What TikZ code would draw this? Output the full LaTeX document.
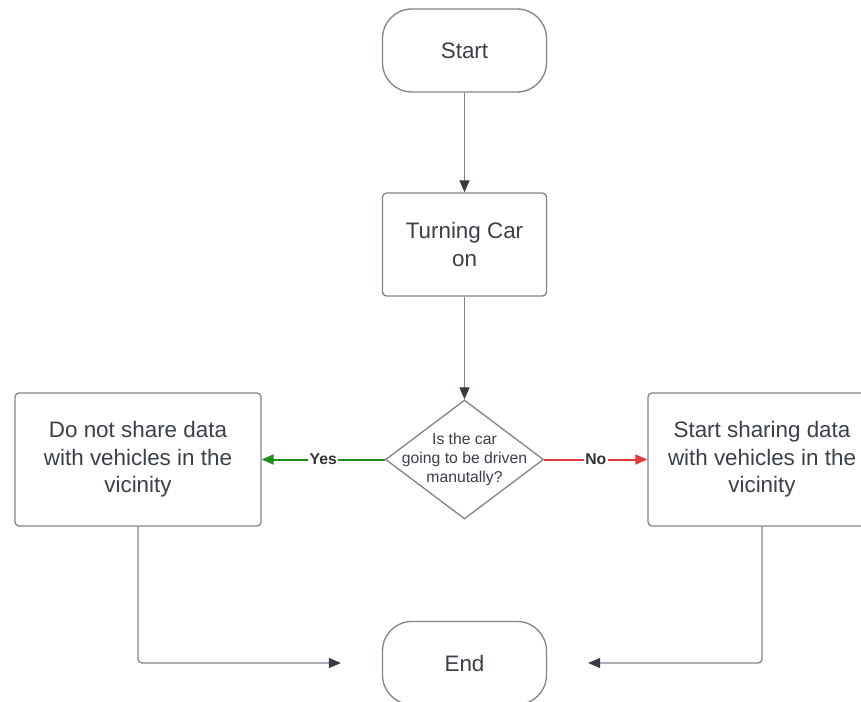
\documentclass[tikz,border=0pt]{standalone}
\usepackage{fontspec}
\setmainfont{Liberation Sans}
\usetikzlibrary{positioning,shapes.geometric,arrows.meta}
\definecolor{lnline}{HTML}{80848B}
\definecolor{lntext}{HTML}{3A3F47}
\definecolor{lntip}{HTML}{353A44}
\definecolor{lngreen}{HTML}{1E8C1E}
\definecolor{lnred}{HTML}{E43A3A}

\begin{document}
\begin{tikzpicture}[x=0.75pt,y=-0.75pt,
    termnode/.style={rectangle,rounded corners=22pt,draw=lnline,line width=1pt,minimum width=123pt,minimum height=62.25pt,text=lntext,font=\fontsize{16.8}{20.6}\selectfont},
    procnode/.style={rectangle,rounded corners=3pt,draw=lnline,line width=1pt,minimum height=99.75pt,text=lntext,align=center,font=\fontsize{16.8}{20.6}\selectfont},
    decnode/.style={diamond,draw=lnline,line width=1pt,minimum width=118.5pt,minimum height=89.25pt,inner sep=0pt},
    dectext/.style={text=lntext,align=center,font=\fontsize{11.8}{14.2}\selectfont},
    flow/.style={draw=lnline,line width=1pt,-{Triangle[length=9pt,width=7.5pt,color=lntip]}},
    yesflow/.style={draw=lngreen,line width=1.5pt,-{Triangle[length=9pt,width=7.5pt]}},
    noflow/.style={draw=lnred,line width=1.5pt,-{Triangle[length=9pt,width=7.5pt]}},
    anslabel/.style={fill=white,inner sep=1pt,text=black!80,font=\fontsize{11.8}{14}\selectfont\bfseries}]
    \useasboundingbox (0,0) rectangle (861,702);

    \node[termnode] (start) at (464.5,50.5) {Start};
    \node[procnode,minimum width=123pt,minimum height=77.25pt] (turnon) at (464.5,244.5) {Turning Car\\on};
    \node[decnode] (manual) at (464.5,459.5) {};
    \node[dectext] at (manual) {Is the car\\going to be driven\\manutally?};
    \node[procnode,minimum width=184.5pt] (noshare) at (138,459.5) {Do not share data\\with vehicles in the\\vicinity};
    \node[procnode,minimum width=171pt] (share) at (762,459.5) {Start sharing data\\with vehicles in the\\vicinity};
    \node[termnode] (end) at (464.5,663) {End};

    \path[flow]
    (start) edge (turnon)
    (turnon) edge (manual);

    \draw[yesflow] (manual.west) -- node[anslabel] {Yes} (noshare.east);
    \draw[noflow] (manual.east) -- node[anslabel] {No} (share.west);

    \draw[flow,rounded corners=3pt,shorten >=30.75pt] (noshare.south) |- (end.west);
    \draw[flow,rounded corners=3pt,shorten >=30.75pt] (share.south) |- (end.east);
\end{tikzpicture}
\end{document}
